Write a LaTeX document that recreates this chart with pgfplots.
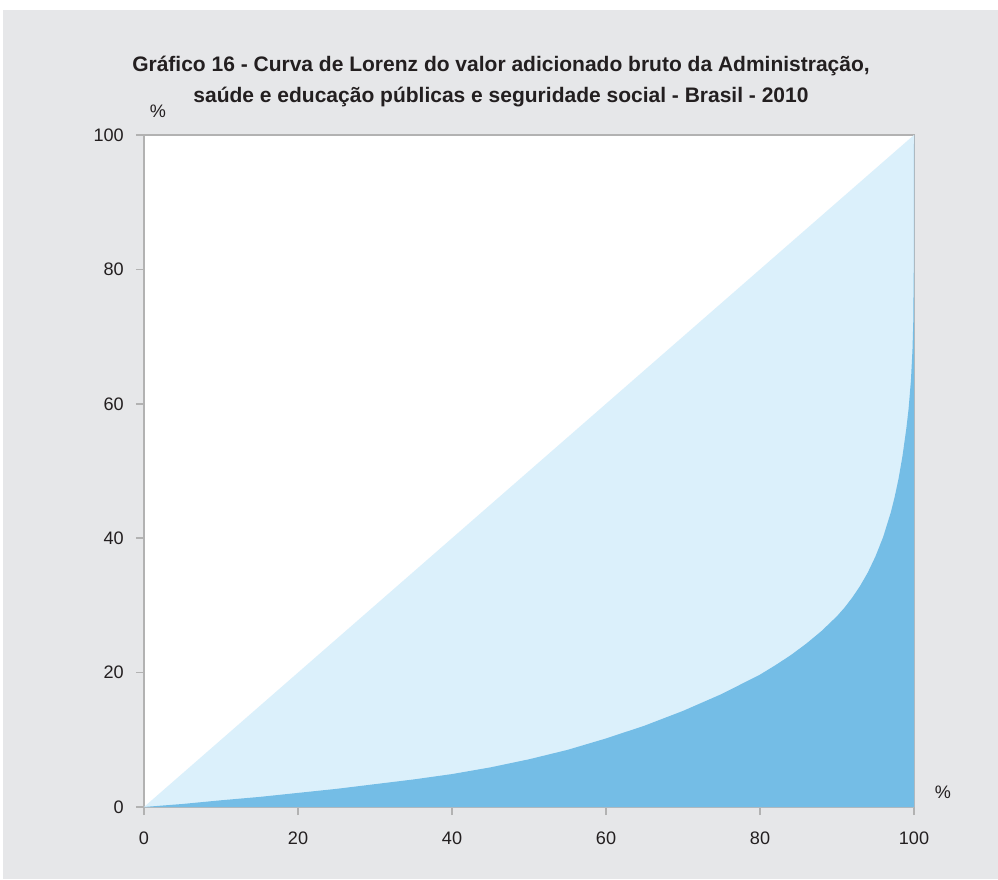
\documentclass[border=0pt]{standalone}
\usepackage{pgfplots}
\pgfplotsset{compat=1.18}
\usepackage{fontspec}
\setmainfont{Liberation Sans}
\usetikzlibrary{backgrounds,calc}
\definecolor{bgray}{RGB}{230,231,233}
\definecolor{lightblue}{RGB}{219,240,251}
\definecolor{darkblue}{RGB}{116,189,230}
\definecolor{axgray}{RGB}{178,178,178}
\definecolor{txt}{RGB}{35,31,32}

\begin{document}
\begin{tikzpicture}[x=1cm,y=1cm]
\begin{axis}[
    name=ax,
    scale only axis,
    width=15.4cm,
    height=13.44cm,
    xmin=0, xmax=100,
    ymin=0, ymax=100,
    axis background/.style={fill=white},
    axis line style={axgray, line width=0.8pt},
    xtick={0,20,...,100},
    ytick={0,20,...,100},
    tick align=outside,
    xtick pos=bottom,
    ytick pos=left,
    major tick length=0.16cm,
    tick style={axgray, line width=0.8pt},
    ticklabel style={font=\fontsize{10.3}{12}\selectfont, text=txt},
    /pgf/number format/assume math mode=true,
    xticklabel style={yshift=-0.22cm},
    yticklabel style={xshift=-0.12cm},
    clip=true,
]
% area under the line of equality
\addplot[fill=lightblue, draw=none] coordinates {
    (0,0) (100,100) (100,0)
} -- cycle;
% Lorenz curve
\addplot[fill=darkblue, draw=none] coordinates {
    (0,0) (5,0.45) (10,1.0) (15,1.5) (20,2.1) (25,2.7) (30,3.4)
    (35,4.1) (40,4.9) (45,5.9) (50,7.1) (55,8.5) (60,10.2) (65,12.1)
    (70,14.3) (75,16.8) (80,19.7) (82,21.1) (84,22.6) (86,24.3)
    (88,26.2) (90,28.4) (91,29.7) (92,31.2) (93,32.9) (94,34.9)
    (95,37.3) (96,40.2) (97,43.9) (97.5,46.2) (98,48.9) (98.5,52.2)
    (99,56.3) (99.3,59.3) (99.6,63.5) (99.8,68) (99.9,72) (99.97,80)
    (100,100)
} \closedcycle;
\end{axis}
\node[font=\fontsize{10.3}{12}\selectfont, text=txt] at ($(ax.north west)+(0.28cm,0.47cm)$) {\%};
\node[font=\fontsize{10.3}{12}\selectfont, text=txt] at ($(ax.south east)+(0.58cm,0.3cm)$) {\%};
\node[font=\bfseries\fontsize{11.95}{17.6}\selectfont, text=txt, align=center]
    at ($(ax.north)+(-0.56cm,1.07cm)$)
    {Gráfico 16 - Curva de Lorenz do valor adicionado bruto da Administração,\\
     saúde e educação públicas e seguridade social - Brasil - 2010};
\begin{scope}[on background layer]
\fill[white] ($(ax.south west)+(-2.88cm,-1.44cm)$) rectangle ($(ax.north east)+(1.68cm,2.7cm)$);
\fill[bgray] ($(ax.south west)+(-2.82cm,-1.44cm)$) rectangle ($(ax.north east)+(1.68cm,2.5cm)$);
\end{scope}
\end{tikzpicture}
\end{document}
